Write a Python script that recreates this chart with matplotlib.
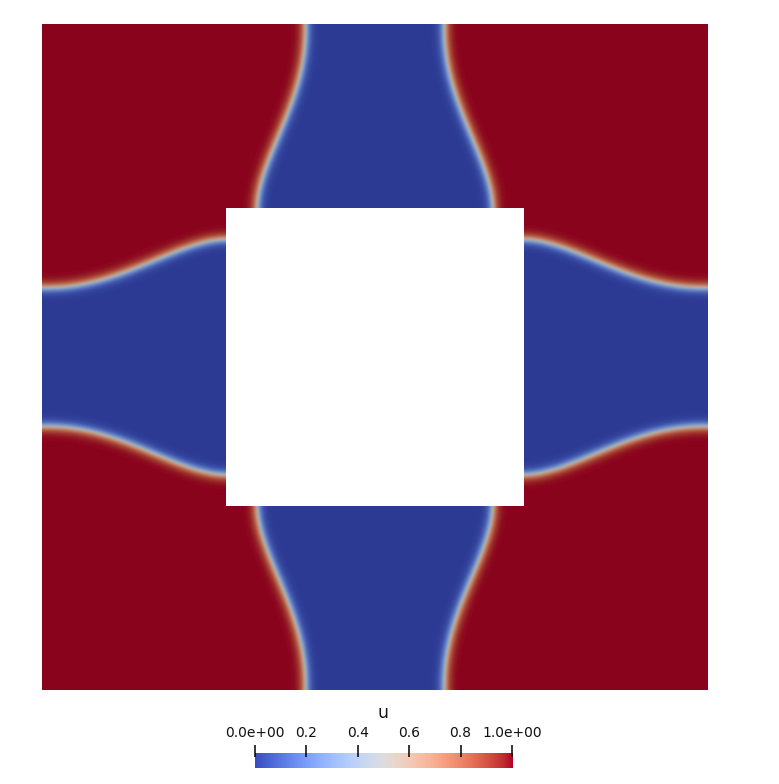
import numpy as np
import matplotlib
matplotlib.use("Agg")
import matplotlib.pyplot as plt
from matplotlib.colors import ListedColormap

# interface: half width of the blue band vs distance from outer edge
# (domain scaled to 1 x 1, hole centred)
edge_dist = [0.0, 0.044, 0.095, 0.144, 0.194, 0.245, 0.275]
half_width = [0.104, 0.107, 0.117, 0.135, 0.156, 0.172, 0.177]
hole_half = 0.224
eps = 0.0078

cbar_ticks = [0.0, 0.2, 0.4, 0.6, 0.8, 1.0]
cbar_labels = ["0.0e+00", "0.2", "0.4", "0.6", "0.8", "1.0e+00"]
field_name = "u"

# smooth the read points
coef = np.polyfit(edge_dist, half_width, 4)
dcoef = np.polyder(coef)
d_max = edge_dist[-1]


def band(d):
    dd = np.clip(d, 0, d_max)
    slope = np.where(d > d_max, 0.0, np.polyval(dcoef, dd))
    return np.polyval(coef, dd), slope


N = 666
c = (np.arange(N) + 0.5) / N - 0.5
X, Y = np.meshgrid(c, c)
ax_, ay_ = np.abs(X), np.abs(Y)

w1, s1 = band(0.5 - ay_)
w2, s2 = band(0.5 - ax_)
f1 = (ax_ - w1) / np.sqrt(1 + s1 ** 2)
f2 = (ay_ - w2) / np.sqrt(1 + s2 ** 2)
u = 0.5 * (1 + np.tanh(np.minimum(f1, f2) / eps))
u = np.ma.masked_where((ax_ < hole_half) & (ay_ < hole_half), u)

# shaded version of cool to warm for the lit surface
base = plt.get_cmap("coolwarm")
shade = base(np.linspace(0, 1, 256))
shade[:, :3] *= 0.77
field_cmap = ListedColormap(shade)
field_cmap.set_bad("white")

W, H = 779, 784
fig = plt.figure(figsize=(W / 100, H / 100), dpi=100)
fig.patch.set_facecolor("white")

ax = fig.add_axes([42 / W, (H - 690) / H, 666 / W, 666 / H])
ax.imshow(u, cmap=field_cmap, vmin=0, vmax=1, origin="lower",
          extent=[0, 1, 0, 1], interpolation="bilinear")
ax.set_axis_off()

# colour bar
cax = fig.add_axes([254.7 / W, (H - 768.3) / H, 257.3 / W, 15.3 / H])
grad = np.linspace(0, 1, 512)[None, :]
cax.imshow(grad, cmap=base, vmin=0, vmax=1, aspect="auto",
           extent=[0, 1, 0, 1], origin="lower")
cax.set_xlim(0, 1)
cax.set_ylim(0, 1)
cax.set_axis_off()
cax.vlines(cbar_ticks, 0.74, 1.52, color="black", lw=1.1, clip_on=False)
for t, lab in zip(cbar_ticks, cbar_labels):
    cax.text(t, 2.02, lab, ha="center", va="baseline", fontsize=10,
             color="#111111", family="DejaVu Sans")
cax.text(0.5, 3.3, field_name, ha="center", va="baseline", fontsize=12.5,
         color="#111111", family="DejaVu Sans")

fig.savefig("out.png", dpi=100, facecolor="white")
